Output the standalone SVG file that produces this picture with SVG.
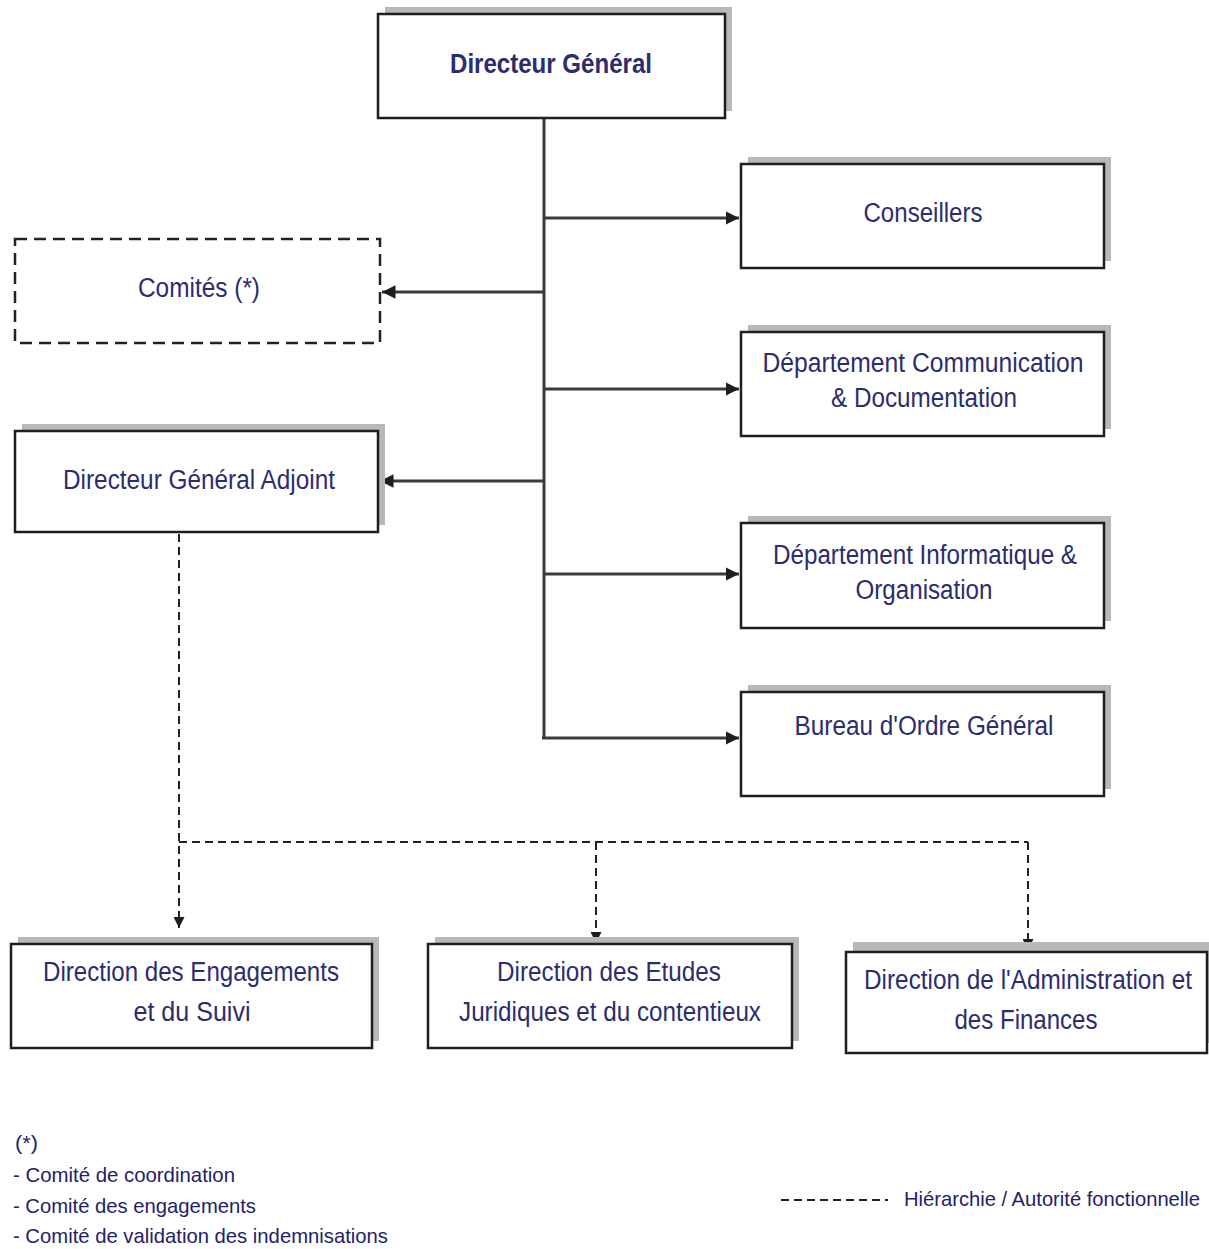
<svg xmlns="http://www.w3.org/2000/svg" width="1209" height="1249" viewBox="0 0 1209 1249">
<style>
.bx{fill:#fff;stroke:#1e1e1e;stroke-width:2.5}
.sh{fill:#b8b8b8}
.t{font-family:"Liberation Sans",Arial,sans-serif;font-size:27px;fill:#2c2c6e;text-anchor:middle}
.b{font-weight:bold;font-size:28px}
.c{stroke:#3a3a3a;stroke-width:3;fill:none}
.d{stroke:#222;stroke-width:2;stroke-dasharray:8,5;fill:none}
.lg{font-family:"Liberation Sans",Arial,sans-serif;font-size:21px;fill:#22226a}
</style>
<defs>
<marker id="a" viewBox="0 0 10 10" refX="10" refY="5" markerWidth="4.5" markerHeight="4.5" orient="auto" markerUnits="strokeWidth"><path d="M0,0L10,5L0,10z" fill="#1e1e1e"/></marker>
<marker id="ad" viewBox="0 0 10 10" refX="10" refY="5" markerWidth="5.5" markerHeight="5.5" orient="auto" markerUnits="strokeWidth"><path d="M0,0L10,5L0,10z" fill="#1e1e1e"/></marker>
</defs>
<rect width="1209" height="1249" fill="#fff"/>
<g id="connectors">
<path class="c" d="M544,118V738"/>
<path class="c" d="M544,218H739" marker-end="url(#a)"/>
<path class="c" d="M544,389H739" marker-end="url(#a)"/>
<path class="c" d="M544,574H739" marker-end="url(#a)"/>
<path class="c" d="M542,738H739" marker-end="url(#a)"/>
<path class="c" d="M544,292H382" marker-end="url(#a)"/>
<path class="c" d="M544,481H380" marker-end="url(#a)"/>
<path class="d" d="M179,534V928" marker-end="url(#ad)"/>
<path class="d" d="M179,842H1028"/>
<path class="d" d="M596,842V943" marker-end="url(#ad)"/>
<path class="d" d="M1028,842V950" marker-end="url(#ad)"/>
</g>
<g id="dg"><rect class="sh" x="385" y="7" width="347" height="104"/><rect class="bx" x="378" y="14" width="347" height="104"/><text class="t b" x="551" y="73" textLength="202" lengthAdjust="spacingAndGlyphs">Directeur Général</text></g>
<g id="conseillers"><rect class="sh" x="748" y="157" width="363" height="104"/><rect class="bx" x="741" y="164" width="363" height="104"/><text class="t" x="923" y="222" textLength="119" lengthAdjust="spacingAndGlyphs">Conseillers</text></g>
<g id="comites"><rect x="15" y="239" width="365" height="104" fill="#fff" stroke="#222" stroke-width="2.5" stroke-dasharray="12,7"/><text class="t" x="199" y="297" textLength="122" lengthAdjust="spacingAndGlyphs">Comités (*)</text></g>
<g id="dept-comm"><rect class="sh" x="748" y="325" width="363" height="104"/><rect class="bx" x="741" y="332" width="363" height="104"/><text class="t" x="923" y="372" textLength="321" lengthAdjust="spacingAndGlyphs">Département  Communication</text><text class="t" x="924" y="407" textLength="186" lengthAdjust="spacingAndGlyphs">&amp; Documentation</text></g>
<g id="dga"><rect class="sh" x="22" y="424" width="363" height="101"/><rect class="bx" x="15" y="431" width="363" height="101"/><text class="t" x="199" y="489" textLength="272" lengthAdjust="spacingAndGlyphs">Directeur Général Adjoint</text></g>
<g id="dept-info"><rect class="sh" x="748" y="516" width="363" height="105"/><rect class="bx" x="741" y="523" width="363" height="105"/><text class="t" x="925" y="564" textLength="304" lengthAdjust="spacingAndGlyphs">Département Informatique &amp;</text><text class="t" x="924" y="599" textLength="137" lengthAdjust="spacingAndGlyphs">Organisation</text></g>
<g id="bureau"><rect class="sh" x="748" y="685" width="363" height="104"/><rect class="bx" x="741" y="692" width="363" height="104"/><text class="t" x="924" y="735" textLength="259" lengthAdjust="spacingAndGlyphs">Bureau d'Ordre Général</text></g>
<g id="dir-eng"><rect class="sh" x="18" y="937" width="361" height="104"/><rect class="bx" x="11" y="944" width="361" height="104"/><text class="t" x="191" y="981" textLength="296" lengthAdjust="spacingAndGlyphs">Direction des Engagements</text><text class="t" x="192" y="1021" textLength="117" lengthAdjust="spacingAndGlyphs">et du  Suivi</text></g>
<g id="dir-etudes"><rect class="sh" x="435" y="937" width="364" height="104"/><rect class="bx" x="428" y="944" width="364" height="104"/><text class="t" x="609" y="981" textLength="224" lengthAdjust="spacingAndGlyphs">Direction des Etudes</text><text class="t" x="610" y="1021" textLength="302" lengthAdjust="spacingAndGlyphs">Juridiques et du contentieux</text></g>
<g id="dir-admin"><rect class="sh" x="853" y="942" width="356" height="101"/><rect class="bx" x="846" y="952" width="361" height="101"/><text class="t" x="1028" y="989" textLength="328" lengthAdjust="spacingAndGlyphs">Direction de l'Administration et</text><text class="t" x="1026" y="1029" textLength="143" lengthAdjust="spacingAndGlyphs">des Finances</text></g>
<g id="legend">
<text class="lg" x="15" y="1150" textLength="23" lengthAdjust="spacingAndGlyphs">(*)</text>
<text class="lg" x="13" y="1182" textLength="222" lengthAdjust="spacingAndGlyphs">- Comité de coordination</text>
<text class="lg" x="13" y="1213" textLength="243" lengthAdjust="spacingAndGlyphs">- Comité des engagements</text>
<text class="lg" x="13" y="1243" textLength="375" lengthAdjust="spacingAndGlyphs">- Comité de validation des indemnisations</text>
<path d="M781,1200H888" stroke="#222" stroke-width="2" stroke-dasharray="8,5"/>
<text class="lg" x="904" y="1206" textLength="296" lengthAdjust="spacingAndGlyphs">Hiérarchie / Autorité fonctionnelle</text>
</g>
</svg>
